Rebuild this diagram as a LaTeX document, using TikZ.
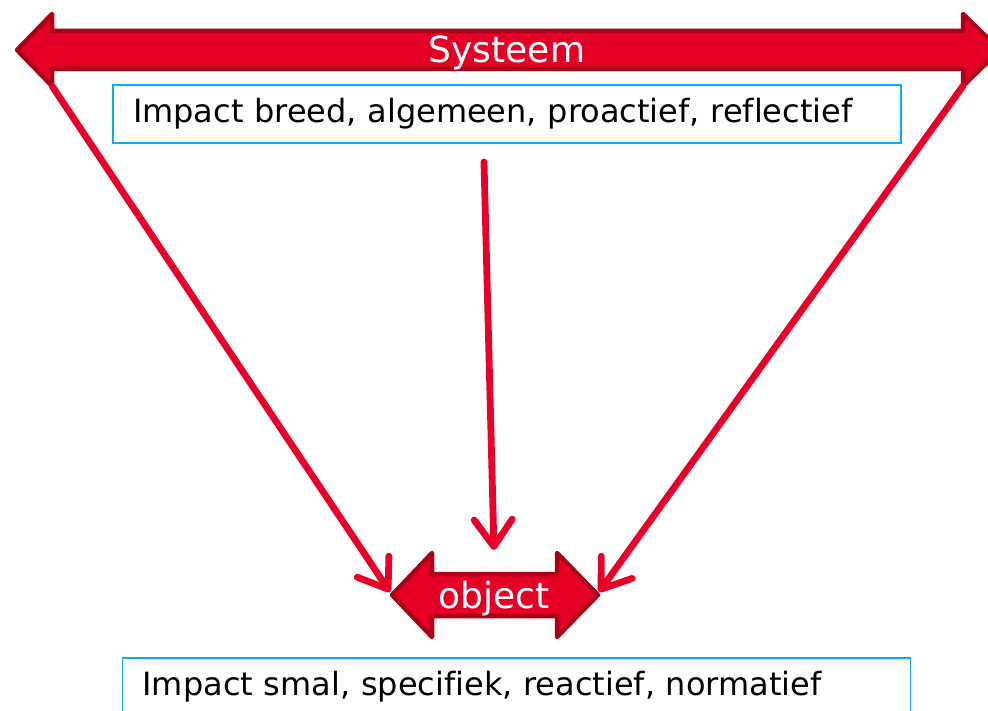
\documentclass[tikz,border=0pt]{standalone}
\usepackage{fontspec}
\setmainfont[Ligatures={NoCommon}]{DejaVu Sans}
\usetikzlibrary{arrows.meta}
\definecolor{arrowfill}{RGB}{230,0,38}
\definecolor{arrowedge}{RGB}{172,0,24}
\definecolor{linered}{RGB}{232,0,40}
\definecolor{boxblue}{RGB}{0,176,240}
\tikzset{
  bigarrow/.style={fill=arrowfill,draw=arrowedge,line width=4.5pt,line join=round},
  conn/.style={draw=linered,line width=6.8pt,line cap=round,
    -{Straight Barb[length=27pt,width=38pt,line cap=round,line join=round]}},
  infobox/.style={draw=boxblue,line width=1.8pt,minimum width=788pt,minimum height=58pt,
    text width=748pt,inner xsep=20pt,align=left,font=\fontsize{32}{38}\selectfont},
  arrowlabel/.style={text=white,font=\fontsize{36}{42}\selectfont,inner sep=0pt}
}
\begin{document}
\begin{tikzpicture}[x=1pt,y=-1pt]
\useasboundingbox (0,0) rectangle (988,711);
\clip (0,0) rectangle (988,711);
% corner coordinates of the top double arrow
\coordinate (sysTipL) at (17,50);
\coordinate (sysHL) at (52,14);
\coordinate (sysSL) at (52,31);
\coordinate (sysSR) at (963,31);
\coordinate (sysHR) at (963,14);
\coordinate (sysTipR) at (1000,50);
\coordinate (sysHRb) at (963,86);
\coordinate (sysSRb) at (963,69);
\coordinate (sysSLb) at (52,69);
\coordinate (sysHLb) at (52,86);
\draw[bigarrow] (sysTipL) -- (sysHL) -- (sysSL) -- (sysSR) -- (sysHR) -- (sysTipR)
  -- (sysHRb) -- (sysSRb) -- (sysSLb) -- (sysHLb) -- cycle;
\node[arrowlabel] (sys) at (507,53) {Systeem};
% object double arrow
\coordinate (objTipL) at (392,595);
\coordinate (objTipR) at (598,595);
\draw[bigarrow] (objTipL) -- (432,553) -- (432,574) -- (557,574) -- (557,553) -- (objTipR)
  -- (557,637) -- (557,616) -- (432,616) -- (432,637) -- cycle;
\node[arrowlabel] (obj) at (494,599) {object};
% boxes
\node[infobox] (top) at (507,114) {\raisebox{-3pt}{Impact breed, algemeen, proactief, reflectief}};
\node[infobox] (bottom) at (516.5,687) {\raisebox{-2pt}{Impact smal, specifiek, reactief, normatief}};
% connectors
\coordinate (midStart) at (484,162);
\coordinate (objTop) at (494,550);
\coordinate (objL) at (390,592);
\coordinate (objR) at (599,592);
\draw[conn] (sysHLb) -- (objL);
\draw[conn] (sysHRb) -- (objR);
\draw[conn] (midStart) -- (objTop);
\end{tikzpicture}
\end{document}
